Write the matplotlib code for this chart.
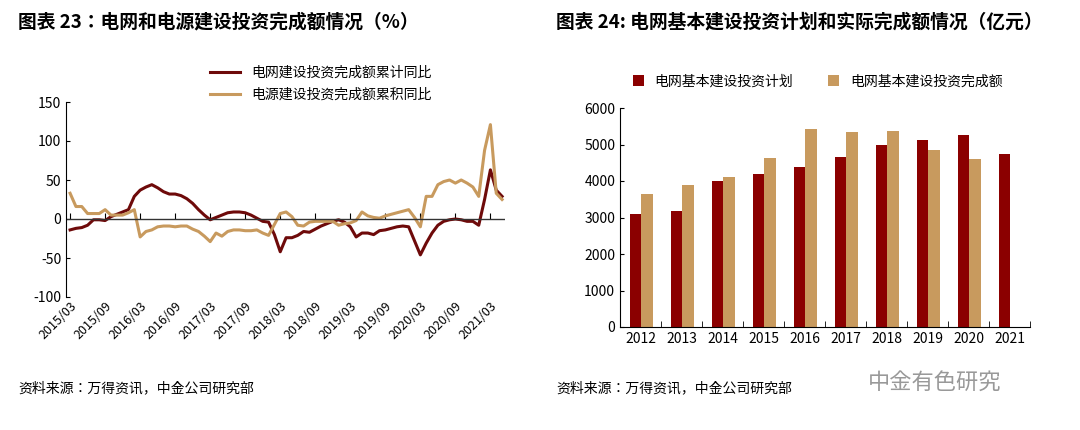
import matplotlib
matplotlib.use("Agg")
import matplotlib.pyplot as plt
import pandas as pd
import numpy as np

plt.rcParams['font.family'] = ['Noto Sans CJK SC', 'Noto Sans CJK JP', 'Noto Sans CJK TC', 'Noto Sans CJK KR', 'DejaVu Sans']
plt.rcParams['axes.unicode_minus'] = False

grid_yoy = [-14,-12,-11,-8,-1,-1,-2,3,6,9,12,29,37,41,44,40,35,32,32,30,
            26,20,12,5,-1,2,5,8,9,9,8,5,1,-3,-4,-20,-42,-24,-24,-21,
            -16,-17,-13,-9,-6,-3,-1,-4,-10,-23,-18,-18,-20,-15,-14,-12,-10,-9,-10,-28,
            -46,-31,-18,-8,-3,-1,0,-1,-3,-3,-8,25,63,37,29]
power_yoy = [33,16,16,7,7,7,12,5,5,5,8,12,-23,-16,-14,-10,-9,-9,-10,-9,
             -9,-13,-16,-22,-29,-18,-22,-16,-14,-14,-15,-15,-14,-18,-21,-7,7,9,3,-8,
             -9,-4,-3,-3,-3,-3,-8,-6,-5,-2,9,4,2,1,4,6,8,10,12,2,
             -10,29,29,44,48,50,46,50,46,41,29,88,121,33,25]
months = pd.date_range("2015-03-01", periods=len(grid_yoy), freq="MS")
tick_labels = ["2015/03","2015/09","2016/03","2016/09","2017/03","2017/09","2018/03",
               "2018/09","2019/03","2019/09","2020/03","2020/09","2021/03"]

years = ["2012","2013","2014","2015","2016","2017","2018","2019","2020","2021"]
plan = [3100,3180,4000,4190,4380,4650,5000,5130,5250,4730]
actual = [3650,3880,4110,4630,5430,5330,5370,4860,4600,None]

DARK = "#6E0A0A"; TAN = "#C89A5E"
fig = plt.figure(figsize=(10.8, 4.3), dpi=100)

fig.text(18/1080, 1-22/430, "图表 23：电网和电源建设投资完成额情况（%）", fontsize=13.5, fontweight='bold', va='center')
fig.text(556/1080, 1-22/430, "图表 24: 电网基本建设投资计划和实际完成额情况（亿元）", fontsize=13.5, fontweight='bold', va='center')
fig.text(18/1080, 1-388/430, "资料来源：万得资讯，中金公司研究部", fontsize=10, va='center')
fig.text(556/1080, 1-388/430, "资料来源：万得资讯，中金公司研究部", fontsize=10, va='center')
fig.text(868/1080, 1-382/430, "中金有色研究", fontsize=16, color='#999999', va='center')

# left
ax = fig.add_axes([66/1080, 133/430, 439/1080, 195/430])
x = np.arange(len(months))
ax.plot(x, grid_yoy, color=DARK, lw=2.2, label="电网建设投资完成额累计同比")
ax.plot(x, power_yoy, color=TAN, lw=2.2, label="电源建设投资完成额累积同比")
ax.set_ylim(-100, 150); ax.set_xlim(-0.7, len(x)-0.5)
ax.set_yticks(range(-100, 151, 50))
tpos = [i for i, m in enumerate(months) if m.strftime("%Y/%m") in tick_labels]
ax.set_xticks(tpos)
ax.set_xticklabels(tick_labels, rotation=45, ha='right', rotation_mode='anchor', fontsize=9)
ax.tick_params(axis='x', length=0, pad=2)
ax.tick_params(axis='y', labelsize=10, direction='in', length=3)
for s in ['top', 'right', 'bottom']:
    ax.spines[s].set_visible(False)
ax.axhline(0, color='#333333', lw=1)
sec = ax.secondary_xaxis(0.4)
sec.set_xticks(tpos); sec.set_xticklabels([]); sec.tick_params(length=4, direction='in')
sec.spines['bottom'].set_visible(False)
ax.legend(loc='upper center', bbox_to_anchor=(0.58, 1.25), frameon=False, fontsize=10,
          handlelength=2.2, labelspacing=0.55)

# right
ax2 = fig.add_axes([620/1080, 103/430, 410/1080, 219/430])
xi = np.arange(len(years)); w = 0.28
ax2.bar(xi - w/2 + 0.02, plan, width=w, color="#8B0000", label="电网基本建设投资计划")
ax2.bar([i + w/2 + 0.02 for i, v in zip(xi, actual) if v is not None],
        [v for v in actual if v is not None], width=w, color=TAN, label="电网基本建设投资完成额")
ax2.set_ylim(0, 6000); ax2.set_xlim(-0.5, len(years)-0.5)
ax2.set_yticks(range(0, 6001, 1000))
ax2.set_xticks(xi); ax2.set_xticklabels(years, fontsize=10)
ax2.set_xticks(np.arange(-0.5, len(years), 1), minor=True)
ax2.tick_params(axis='x', which='major', length=0)
ax2.tick_params(axis='x', which='minor', length=4, direction='in')
ax2.tick_params(axis='y', labelsize=10, direction='in', length=3)
for s in ['top', 'right']:
    ax2.spines[s].set_visible(False)
ax2.legend(loc='upper left', bbox_to_anchor=(0.0, 1.21), ncol=2, frameon=False, fontsize=10,
           handlelength=0.8, handleheight=0.8, columnspacing=2.5)

fig.savefig("out.png", dpi=100)
